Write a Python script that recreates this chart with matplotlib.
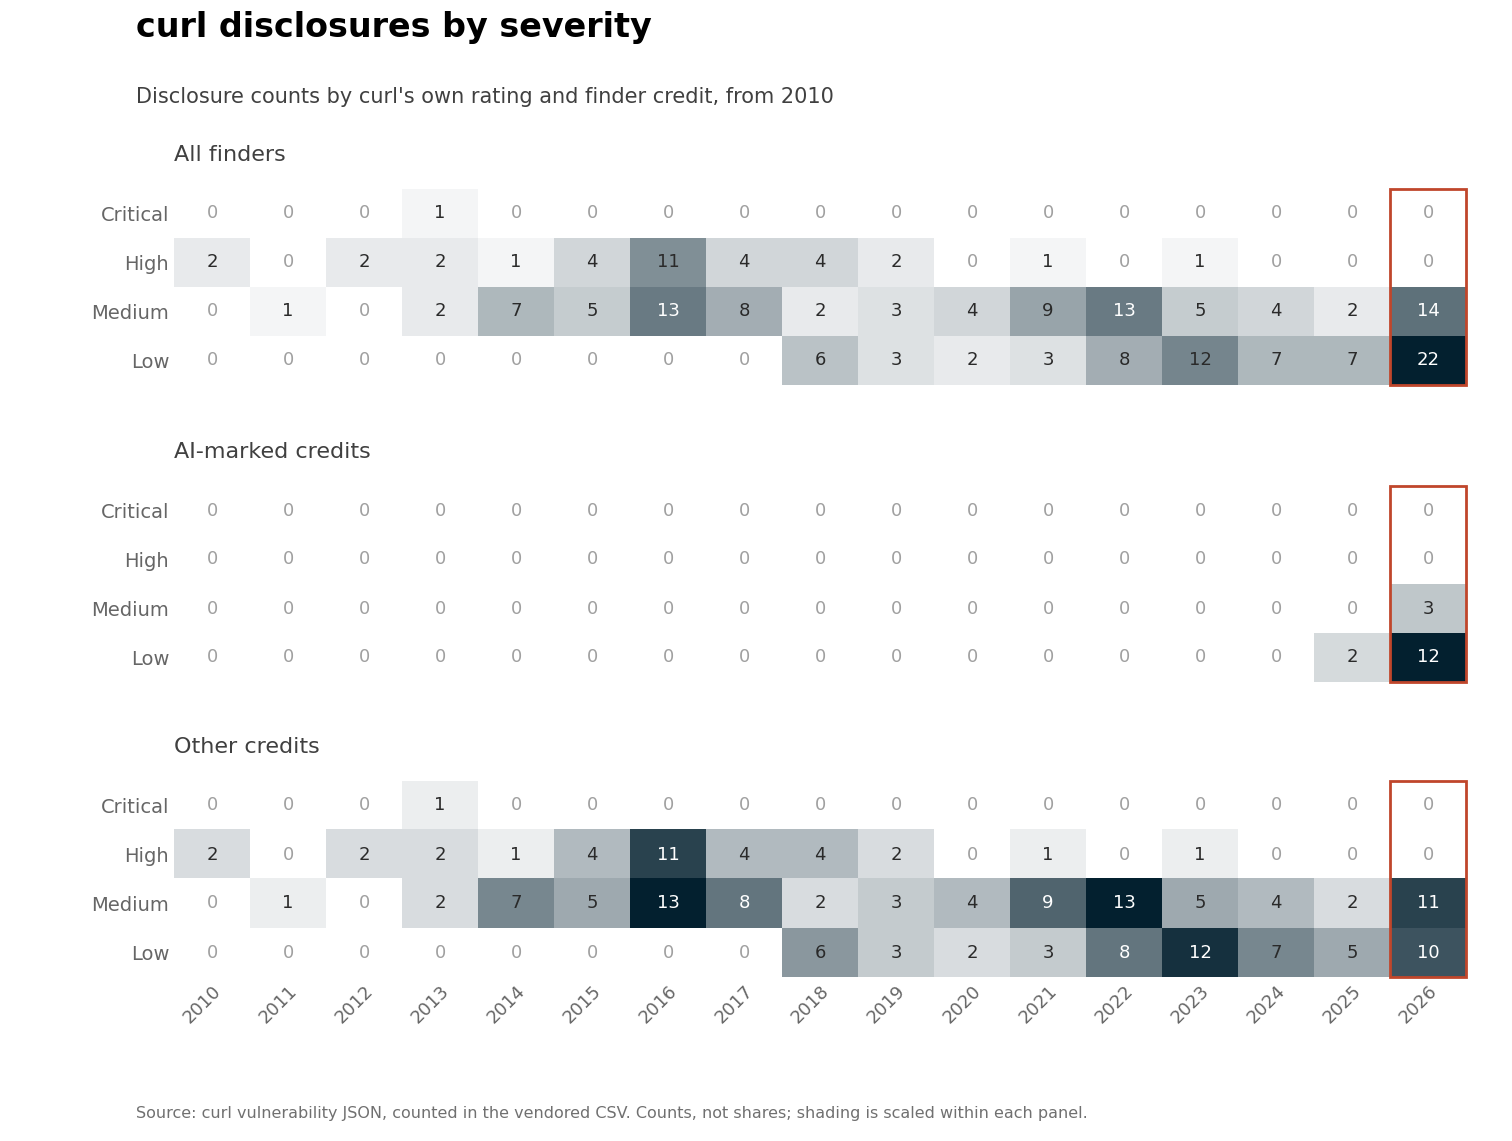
import numpy as np
import matplotlib
matplotlib.use("Agg")
import matplotlib.pyplot as plt
from matplotlib.colors import LinearSegmentedColormap
from matplotlib.patches import Rectangle

years = [str(y) for y in range(2010, 2027)]
severities = ["Critical", "High", "Medium", "Low"]

all_critical = [0, 0, 0, 1, 0, 0, 0, 0, 0, 0, 0, 0, 0, 0, 0, 0, 0]
all_high = [2, 0, 2, 2, 1, 4, 11, 4, 4, 2, 0, 1, 0, 1, 0, 0, 0]
all_medium = [0, 1, 0, 2, 7, 5, 13, 8, 2, 3, 4, 9, 13, 5, 4, 2, 14]
all_low = [0, 0, 0, 0, 0, 0, 0, 0, 6, 3, 2, 3, 8, 12, 7, 7, 22]

ai_critical = [0] * 17
ai_high = [0] * 17
ai_medium = [0] * 16 + [3]
ai_low = [0] * 15 + [2, 12]

other_critical = [0, 0, 0, 1, 0, 0, 0, 0, 0, 0, 0, 0, 0, 0, 0, 0, 0]
other_high = [2, 0, 2, 2, 1, 4, 11, 4, 4, 2, 0, 1, 0, 1, 0, 0, 0]
other_medium = [0, 1, 0, 2, 7, 5, 13, 8, 2, 3, 4, 9, 13, 5, 4, 2, 11]
other_low = [0, 0, 0, 0, 0, 0, 0, 0, 6, 3, 2, 3, 8, 12, 7, 5, 10]

panels = [
    ("All finders", np.array([all_critical, all_high, all_medium, all_low])),
    ("AI-marked credits", np.array([ai_critical, ai_high, ai_medium, ai_low])),
    ("Other credits", np.array([other_critical, other_high, other_medium, other_low])),
]

cmap = LinearSegmentedColormap.from_list("navy", ["#ffffff", "#03202f"])

fig = plt.figure(figsize=(15.12, 11.41), dpi=100)
fig.text(0.09, 0.976, "curl disclosures by severity", fontsize=24, fontweight="bold", va="center")
fig.text(0.09, 0.915, "Disclosure counts by curl's own rating and finder credit, from 2010",
         fontsize=15, color="#404040", va="center")
fig.text(0.09, 0.024, "Source: curl vulnerability JSON, counted in the vendored CSV. Counts, not shares; "
         "shading is scaled within each panel.", fontsize=11.5, color="#707070", va="center")

tops = [189, 486, 781]
for i, (name, data) in enumerate(panels):
    top = 1 - tops[i] / 1141
    h = 196 / 1141
    ax = fig.add_axes([174 / 1512, top - h, 1292 / 1512, h])
    vmax = data.max()
    ax.imshow(data, cmap=cmap, vmin=0, vmax=vmax, aspect="auto")
    for r in range(4):
        for c in range(17):
            v = data[r, c]
            if v == 0:
                col = "#a0a0a0"
            elif v / vmax > 0.55:
                col = "white"
            else:
                col = "#2a2a2a"
            ax.text(c, r, str(v), ha="center", va="center", fontsize=13, color=col)
    ax.add_patch(Rectangle((15.5, -0.5), 1, 4, fill=False, edgecolor="#c0462b", lw=2, clip_on=False))
    ax.set_yticks(range(4))
    ax.set_yticklabels(severities, fontsize=14, color="#666666")
    ax.set_xticks(range(17))
    if i == 2:
        ax.set_xticklabels(years, rotation=45, ha="right", rotation_mode="anchor",
                           fontsize=13, color="#666666")
    else:
        ax.set_xticklabels([])
    ax.tick_params(length=0)
    for s in ax.spines.values():
        s.set_visible(False)
    ax.text(0, 1.12, name, transform=ax.transAxes, fontsize=16, color="#404040", va="bottom")

fig.savefig("out.png", dpi=100)
